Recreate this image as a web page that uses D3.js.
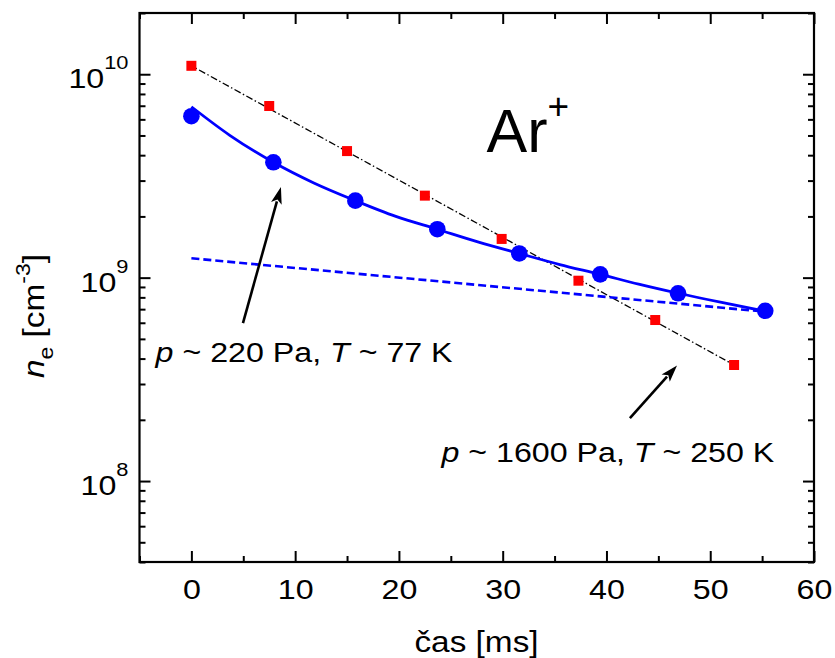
<!DOCTYPE html>
<html><head><meta charset="utf-8">
<script src="https://cdn.jsdelivr.net/npm/d3@7"></script>
<style>body{margin:0;background:#fff;} svg{display:block;font-family:"Liberation Sans",Arial,sans-serif;}</style>
</head><body>
<script>
// ---- data ----
const blueT = [0, 7.9, 15.8, 23.7, 31.6, 39.4, 46.9, 55.3];
const blueN = [6.22e9, 3.69e9, 2.39e9, 1.73e9, 1.315e9, 1.038e9, 8.38e8, 6.87e8];
const redT = [0, 7.5, 15.0, 22.5, 29.9, 37.3, 44.7, 52.3];
const redN = [1.10e10, 6.98e9, 4.19e9, 2.53e9, 1.55e9, 9.66e8, 6.19e8, 3.72e8];
// fitted curves
const fitBlueT = [0, 3.7, 7.9, 11.8, 15.8, 19.7, 23.7, 27.6, 31.6, 35.5, 39.4, 43.1, 46.9, 51.1, 55.3];
const fitBlueN = [6.92e9, 5.01e9, 3.69e9, 2.92e9, 2.39e9, 2.0e9, 1.73e9, 1.50e9, 1.315e9, 1.16e9, 1.038e9, 9.29e8, 8.38e8, 7.55e8, 6.84e8];
const slowT = [0, 55.3];
const slowN = [1.245e9, 6.8e8];
const fitRedT = [-0.4, 52.3];
const fitRedN = [1.13e10, 3.72e8];
const xTicks = [0, 10, 20, 30, 40, 50, 60];
const xMinor = [-5, 5, 15, 25, 35, 45, 55];
const yTicks = [1e8, 1e9, 1e10];
const yExp = ["8", "9", "10"];

const W = 835, H = 658;
const L = 139.5, R = 814, T = 13, B = 562;
const SX = 1.15;

const svg = d3.select("body").append("svg").attr("width", W).attr("height", H);
const x = d3.scaleLinear().domain([-5, 60]).range([L, R]);
const y = d3.scaleLog().domain([4e7, 2e10]).range([B, T]);

const yMinor = [];
for (let e = 7; e <= 10; e++) for (let m = 2; m <= 9; m++) { const v = m * Math.pow(10, e); if (v >= 4e7 && v <= 2e10) yMinor.push(v); }

function styleAxis(g) { g.select(".domain").remove(); g.selectAll(".tick line").attr("stroke", "#000").attr("stroke-width", 2); }

// x axes
svg.append("g").attr("transform", `translate(0,${B})`)
  .call(d3.axisBottom(x).tickValues(xTicks).tickSize(-11).tickPadding(17).tickFormat(d3.format("d")))
  .call(styleAxis)
  .call(g => g.selectAll("text").attr("font-size", 28).attr("fill", "#000").attr("font-family", "Liberation Sans, Arial").attr("transform", `scale(${SX},1)`));
svg.append("g").attr("transform", `translate(0,${B})`)
  .call(d3.axisBottom(x).tickValues(xMinor).tickSize(-6).tickFormat("")).call(styleAxis);
svg.append("g").attr("transform", `translate(0,${T})`)
  .call(d3.axisTop(x).tickValues(xTicks).tickSize(-11).tickFormat("")).call(styleAxis);
svg.append("g").attr("transform", `translate(0,${T})`)
  .call(d3.axisTop(x).tickValues(xMinor).tickSize(-6).tickFormat("")).call(styleAxis);

// y axes
const yl = svg.append("g").attr("transform", `translate(${L},0)`)
  .call(d3.axisLeft(y).tickValues(yTicks).tickSize(-11).tickFormat("")).call(styleAxis);
svg.append("g").attr("transform", `translate(${L},0)`)
  .call(d3.axisLeft(y).tickValues(yMinor).tickSize(-6).tickFormat("")).call(styleAxis);
svg.append("g").attr("transform", `translate(${R},0)`)
  .call(d3.axisRight(y).tickValues(yTicks).tickSize(-11).tickFormat("")).call(styleAxis);
svg.append("g").attr("transform", `translate(${R},0)`)
  .call(d3.axisRight(y).tickValues(yMinor).tickSize(-6).tickFormat("")).call(styleAxis);

yTicks.forEach((v, i) => {
  const t = svg.append("text").attr("transform", `translate(${L - 11},${y(v) + 14}) scale(${SX},1)`)
    .attr("text-anchor", "end").attr("font-size", 28).attr("fill", "#000");
  t.append("tspan").text("10");
  t.append("tspan").attr("dy", -19).attr("font-size", 19).text(yExp[i]);
});

// frame
svg.append("rect").attr("x", L).attr("y", T).attr("width", R - L).attr("height", B - T)
  .attr("fill", "none").attr("stroke", "#000").attr("stroke-width", 2.2);

// lines
const line = d3.line().x(d => x(d[0])).y(d => y(d[1]));
svg.append("path").datum(fitRedT.map((t, i) => [t, fitRedN[i]])).attr("d", line)
  .attr("fill", "none").attr("stroke", "#000").attr("stroke-width", 1.3).attr("stroke-dasharray", "7,2.5,1.5,2.5");
svg.append("path").datum(slowT.map((t, i) => [t, slowN[i]])).attr("d", line)
  .attr("fill", "none").attr("stroke", "#0000ff").attr("stroke-width", 2.6).attr("stroke-dasharray", "8,4");
svg.append("path").datum(fitBlueT.map((t, i) => [t, fitBlueN[i]])).attr("d", line.curve(d3.curveMonotoneX))
  .attr("fill", "none").attr("stroke", "#0000ff").attr("stroke-width", 2.8);

// markers
svg.append("g").selectAll("rect").data(redT.map((t, i) => [t, redN[i]])).join("rect")
  .attr("x", d => x(d[0]) - 5).attr("y", d => y(d[1]) - 5).attr("width", 10).attr("height", 10).attr("fill", "#ff0000");
svg.append("g").selectAll("circle").data(blueT.map((t, i) => [t, blueN[i]])).join("circle")
  .attr("cx", d => x(d[0])).attr("cy", d => y(d[1])).attr("r", 8.3).attr("fill", "#0000ff");

// arrows
const arrows = [[[4.97, 5.98e8], [8.63, 2.79e9]], [[42.26, 2.04e8], [46.8, 3.70e8]]];
arrows.forEach(a => {
  const x0 = x(a[0][0]), y0 = y(a[0][1]), x1 = x(a[1][0]), y1 = y(a[1][1]);
  const dx = x1 - x0, dy = y1 - y0, len = Math.hypot(dx, dy), ux = dx / len, uy = dy / len;
  const hl = 17, hw = 5.5;
  const bx = x1 - ux * hl, by = y1 - uy * hl;
  svg.append("line").attr("x1", x0).attr("y1", y0).attr("x2", bx + ux * 2).attr("y2", by + uy * 2)
    .attr("stroke", "#000").attr("stroke-width", 2.6);
  svg.append("path").attr("d", `M${x1},${y1}L${bx - uy * hw},${by + ux * hw}L${bx + ux * 4},${by + uy * 4}L${bx + uy * hw},${by - ux * hw}Z`).attr("fill", "#000");
});

// annotations
function ann(t, n, parts, fs) {
  const tx = svg.append("text").attr("transform", `translate(${x(t)},${y(n)}) scale(${SX},1)`)
    .attr("font-size", fs).attr("fill", "#000");
  parts.forEach(p => { const s = tx.append("tspan").text(p[0]); if (p[1]) s.attr("font-style", "italic"); });
}
ann(-3.45, 3.85e8, [["p", 1], [" ~ 220 Pa, "], ["T", 1], [" ~ 77 K"]], 28);
ann(24.1, 1.24e8, [["p", 1], [" ~ 1600 Pa, "], ["T", 1], [" ~ 250 K"]], 28);

const ar = svg.append("text").attr("transform", `translate(${x(28.45)},${y(4.15e9)})`).attr("font-size", 61).attr("fill", "#000");
ar.append("tspan").text("Ar");
ar.append("tspan").attr("dy", -33).attr("font-size", 37).text("+");

// axis titles
svg.append("text").attr("transform", `translate(476.5,652) scale(${SX},1)`).attr("text-anchor", "middle")
  .attr("font-size", 29).attr("fill", "#000").text("čas [ms]");
const yt = svg.append("text").attr("transform", `translate(44,316) rotate(-90) scale(${SX},1)`).attr("text-anchor", "middle")
  .attr("font-size", 29).attr("fill", "#000");
yt.append("tspan").attr("font-style", "italic").text("n");
yt.append("tspan").attr("dy", 9).attr("font-size", 20).text("e");
yt.append("tspan").attr("dy", -9).text(" [cm");
yt.append("tspan").attr("dy", -14).attr("font-size", 20).text("-3");
yt.append("tspan").attr("dy", 14).text("]");
</script>
</body></html>
